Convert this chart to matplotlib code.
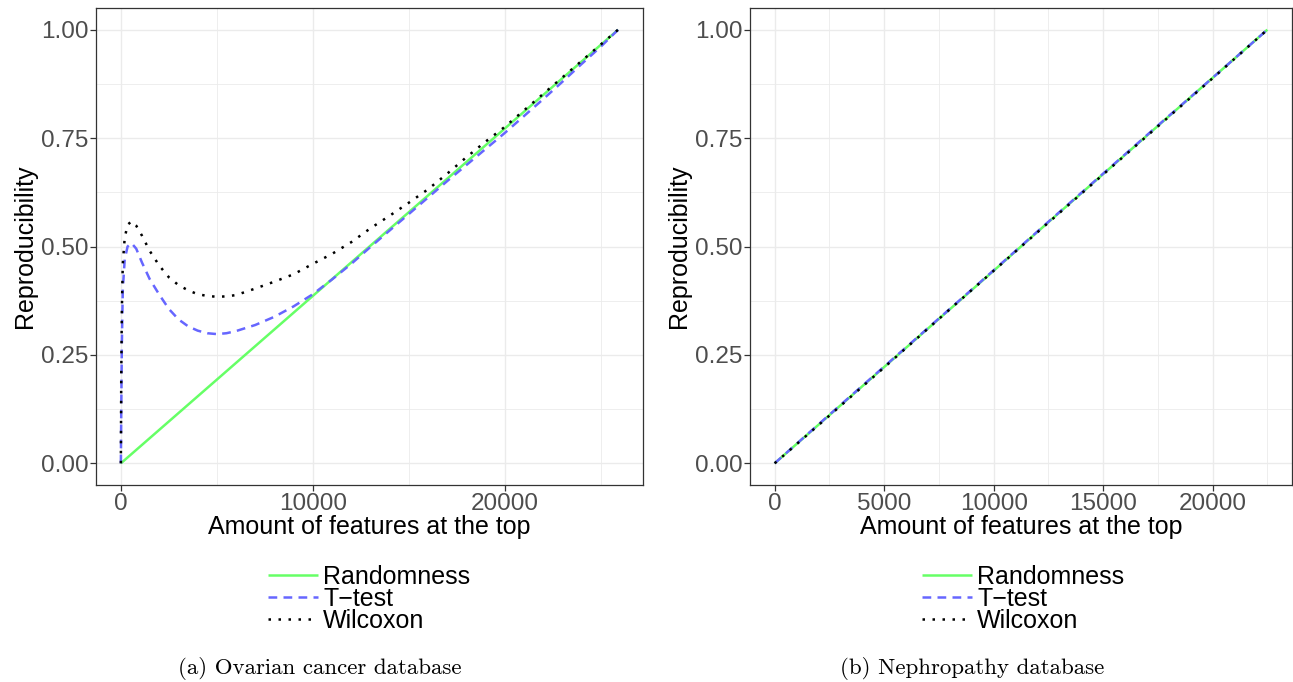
import matplotlib
matplotlib.use("Agg")
import matplotlib.pyplot as plt
from matplotlib.ticker import MultipleLocator

# ---- data -------------------------------------------------------------
series_names = ["Randomness", "T\u2212test", "Wilcoxon"]

# (a) Ovarian cancer database
ov_random_x = [0, 25900]
ov_random_y = [0.0, 1.0]
ov_x = [0, 20, 50, 100, 200, 350, 550, 800, 1100, 1500, 2000, 2500, 3000,
        3500, 4000, 4500, 5000, 5500, 6000, 7000, 8000, 9000, 10000, 11000,
        12000, 13000, 14000, 15000, 16000, 17000, 18000, 19000, 20000,
        21000, 22000, 23000, 24000, 25000, 25900]
ov_ttest = [0.0, 0.12, 0.27, 0.40, 0.47, 0.50, 0.508, 0.495, 0.463, 0.425,
            0.389, 0.356, 0.332, 0.316, 0.306, 0.300, 0.298, 0.300, 0.305,
            0.319, 0.338, 0.362, 0.390, 0.424, 0.460, 0.499, 0.537, 0.575,
            0.613, 0.651, 0.688, 0.725, 0.762, 0.801, 0.840, 0.880, 0.921,
            0.961, 1.0]
ov_wilcoxon = [0.0, 0.20, 0.35, 0.46, 0.52, 0.55, 0.558, 0.548, 0.525, 0.490,
               0.456, 0.429, 0.411, 0.399, 0.390, 0.386, 0.384, 0.385, 0.388,
               0.403, 0.419, 0.436, 0.460, 0.483, 0.510, 0.542, 0.571, 0.601,
               0.632, 0.668, 0.706, 0.742, 0.776, 0.814, 0.852, 0.890, 0.928,
               0.966, 1.0]

# (b) Nephropathy database
ne_x = [0, 2500, 5000, 7500, 10000, 12500, 15000, 17500, 20000, 22500]
ne_random = [0.0, 0.111, 0.222, 0.333, 0.444, 0.556, 0.667, 0.778, 0.889, 1.0]
ne_ttest = [0.0, 0.112, 0.223, 0.334, 0.445, 0.557, 0.668, 0.779, 0.889, 1.0]
ne_wilcoxon = [0.0, 0.110, 0.221, 0.333, 0.444, 0.555, 0.666, 0.777, 0.888, 1.0]

captions = ["(a) Ovarian cancer database", "(b) Nephropathy database"]

# ---- styling ----------------------------------------------------------
plt.rcParams["font.family"] = ["Liberation Sans", "DejaVu Sans"]
W, H = 1293, 682
fig = plt.figure(figsize=(W / 100, H / 100), dpi=100)

GREEN = "#66FF66"
BLUE = "#6666FF"
BLACK = "#000000"
LW = 1.8


def px_axes(l, t, r, b):
    return [l / W, 1 - b / H, (r - l) / W, (b - t) / H]


def style_axes(ax, xmax, xmajor):
    ax.set_xlim(-0.05 * xmax, 1.05 * xmax)
    ax.set_ylim(-0.05, 1.05)
    ax.xaxis.set_major_locator(MultipleLocator(xmajor))
    ax.xaxis.set_minor_locator(MultipleLocator(xmajor / 2))
    ax.yaxis.set_major_locator(MultipleLocator(0.25))
    ax.yaxis.set_minor_locator(MultipleLocator(0.125))
    ax.yaxis.set_major_formatter(plt.FuncFormatter(lambda v, p: f"{v:.2f}"))
    ax.xaxis.set_major_formatter(plt.FuncFormatter(lambda v, p: f"{v:.0f}"))
    ax.grid(which="major", color="#EBEBEB", lw=1.0)
    ax.grid(which="minor", color="#EBEBEB", lw=0.6)
    ax.set_axisbelow(True)
    for s in ax.spines.values():
        s.set_color("#333333")
        s.set_linewidth(0.9)
    ax.tick_params(which="major", length=4, width=0.9, color="#333333",
                   labelsize=17.5, labelcolor="#4D4D4D", pad=1.5)
    ax.tick_params(which="minor", length=0)
    ax.set_xlabel("Amount of features at the top", fontsize=18, labelpad=0)
    ax.set_ylabel("Reproducibility", fontsize=18, labelpad=3)


def draw(ax, xr, yr, xt, yt, xw, yw):
    h1, = ax.plot(xr, yr, color=GREEN, lw=LW, solid_capstyle="butt")
    h2, = ax.plot(xt, yt, color=BLUE, lw=LW, linestyle=(0, (3.5, 2.5)),
                  dash_capstyle="butt")
    h3, = ax.plot(xw, yw, color=BLACK, lw=LW, linestyle=(0, (1, 3)),
                  dash_capstyle="butt")
    return [h1, h2, h3]


ax1 = fig.add_axes(px_axes(96, 8, 643, 485))
style_axes(ax1, 25900, 10000)
hs1 = draw(ax1, ov_random_x, ov_random_y, ov_x, ov_ttest, ov_x, ov_wilcoxon)

ax2 = fig.add_axes(px_axes(750, 8, 1292, 485))
style_axes(ax2, 22500, 5000)
hs2 = draw(ax2, ne_x, ne_random, ne_x, ne_ttest, ne_x, ne_wilcoxon)

for ax, hs, lx in ((ax1, hs1, 268), (ax2, hs2, 922)):
    ax.legend(hs, series_names, loc="upper left",
              bbox_to_anchor=(lx / W, 1 - 565 / H),
              bbox_transform=fig.transFigure, frameon=False, fontsize=18,
              handlelength=2.0, handletextpad=0.2, labelspacing=-0.09,
              borderpad=0, borderaxespad=0)

for cx, text in zip((320, 972), captions):
    fig.text(cx / W, 1 - 668 / H, text, ha="center", va="center",
             fontsize=16.5, family="cmr10")

fig.savefig("out.png", dpi=100)
